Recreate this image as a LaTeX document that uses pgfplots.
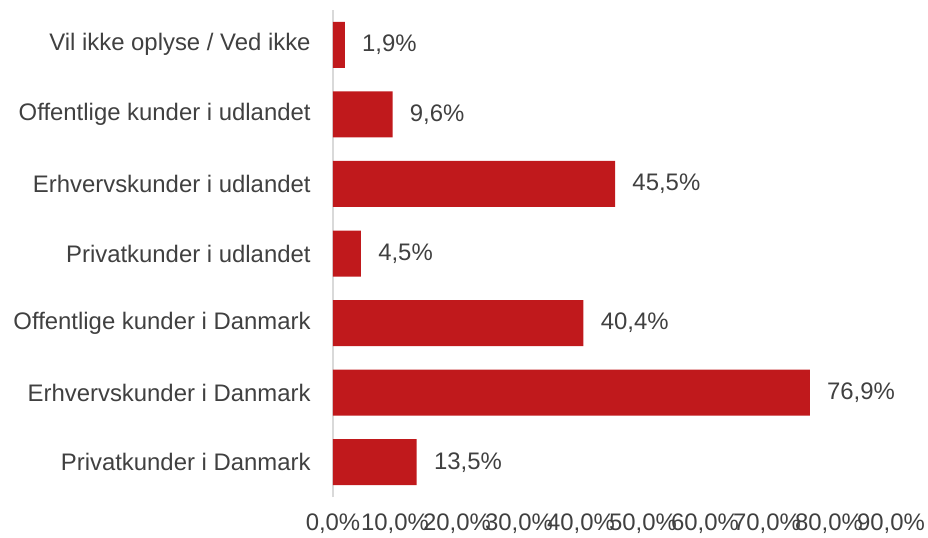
\documentclass[border=0pt]{standalone}
\usepackage{pgfplots}
\pgfplotsset{compat=1.18}
\usepackage{fontspec}
\setmainfont{Liberation Sans}
\definecolor{barred}{RGB}{192,25,28}
\definecolor{txt}{RGB}{64,64,64}
\definecolor{axisgray}{RGB}{217,217,217}

\begin{document}
\begin{tikzpicture}[font=\fontsize{11.95}{14}\selectfont]
\begin{axis}[
    scale only axis,
    width=279pt, height=243.5pt,
    xbar, bar width=23pt,
    xmin=0, xmax=90,
    ymin=-0.5, ymax=6.5,
    xtick={0,10,...,90},
    ytick={0,...,6},
    yticklabels={Privatkunder i Danmark, Erhvervskunder i Danmark, Offentlige kunder i Danmark,
        Privatkunder i udlandet, Erhvervskunder i udlandet, Offentlige kunder i udlandet,
        Vil ikke oplyse / Ved ikke},
    axis lines*=left,
    x axis line style={draw=none},
    y axis line style={draw=axisgray, line width=0.6pt},
    major tick length=0pt,
    tick style={draw=none},
    /pgf/number format/.cd, use comma, fixed, fixed zerofill, precision=1, assume math mode=true,
    /pgfplots/.cd,
    xticklabel={\pgfmathprintnumber{\tick}\%},
    xticklabel style={anchor=base, inner sep=0pt, yshift=-16.5pt, text=txt},
    yticklabel style={anchor=east, inner sep=0pt, xshift=-11pt, text=txt},
    nodes near coords={\pgfmathprintnumber{\pgfplotspointmeta}\%},
    every node near coord/.append style={anchor=west, inner sep=0pt, xshift=8.5pt, text=txt},
    clip=false,
]
\addplot[fill=barred, draw=none] coordinates {
    (13.5,0) (76.9,1) (40.4,2) (4.5,3) (45.5,4) (9.6,5) (1.9,6)
};
\coordinate (sw) at (rel axis cs:0,0);
\end{axis}
\pgfresetboundingbox
\path (sw) ++(-166.5pt,-20pt) rectangle ++(464pt,268.5pt);
\end{tikzpicture}
\end{document}
